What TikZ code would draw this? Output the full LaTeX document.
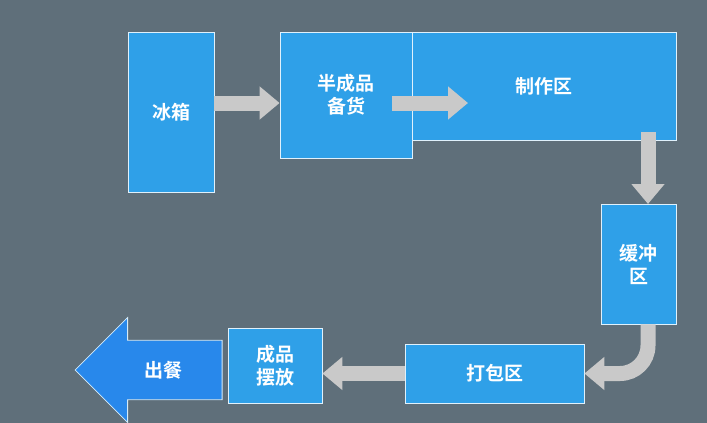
\documentclass[tikz,border=0pt]{standalone}
\usepackage{fontspec}
\newfontfamily\cjk{Noto Sans CJK SC}[BoldFont={Noto Sans CJK SC Bold}]
\usetikzlibrary{arrows.meta,shapes.arrows,positioning}
\definecolor{bgcol}{HTML}{5F6F7A}
\definecolor{boxcol}{HTML}{2FA0E8}
\definecolor{arrcol}{HTML}{C9C9C9}
\tikzset{
  zone/.style={draw=white!85!boxcol, line width=0.8pt, fill=boxcol, text=white,
    font=\cjk\bfseries\fontsize{19}{23}\selectfont, align=center, inner sep=0pt},
  flow/.style={line width=15pt, draw=arrcol,
    -{Triangle[length=20pt,width=32pt]}}
}
\begin{document}
\begin{tikzpicture}[x=1pt,y=-1pt]
  \fill[bgcol] (0,0) rectangle (707,423);
  \useasboundingbox (0,0) rectangle (707,423);
  \node[zone, minimum width=86pt, minimum height=160pt] (fridge) at (171,112) {冰箱};
  \node[zone, minimum width=264pt, minimum height=108pt] (kitchen) at (544,86) {\hspace*{0pt}};
  \node[font=\cjk\bfseries\fontsize{19}{23}\selectfont, text=white] (kitchenlbl) at (544,86) {制作区};
  \node[zone, minimum width=132pt, minimum height=126pt] (prep) at (346,95) {半成品\\备货};
  \node[zone, minimum width=75pt, minimum height=120pt] (buffer) at (638.5,264) {缓冲\\区};
  \node[zone, minimum width=179pt, minimum height=59pt] (pack) at (494.5,373.5) {打包区};
  \node[zone, minimum width=94pt, minimum height=75pt] (display) at (275,365.5) {成品\\摆放};
  \node[single arrow, shape border rotate=180, fill=boxcol!85!blue, draw=white!80!boxcol,
    line width=0.8pt, text=white, font=\cjk\bfseries\fontsize{19}{23}\selectfont,
    minimum height=147pt, minimum width=105pt, single arrow head extend=22.5pt,
    single arrow tip angle=90, inner ysep=20pt, inner xsep=18pt] (serve) at (163.5,370) {出餐};
  \draw[flow] (fridge.east |- 0,103) -- (prep.west |- 0,103);
  \draw[flow] (392,103) -- (468,103);
  \draw[flow] (648,132) -- (648,204);
  \draw[flow, rounded corners=28pt] (buffer.south -| 648,0) |- (pack.east);
  \draw[flow] (pack.west) -- (pack.west -| display.east);
\end{tikzpicture}
\end{document}
